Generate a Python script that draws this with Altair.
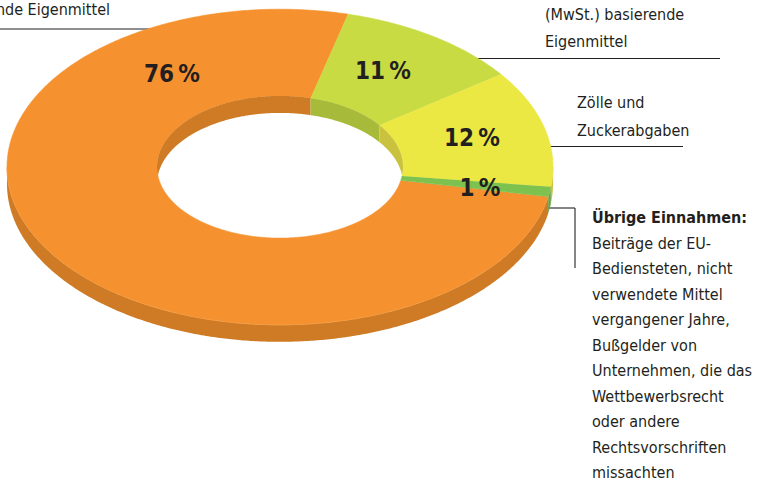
import altair as alt
import numpy as np
import pandas as pd

# ---------------- data ----------------
categories = [
    "Auf dem Bruttonationaleinkommen (BNE) basierende Eigenmittel",
    "Auf der Mehrwertsteuer (MwSt.) basierende Eigenmittel",
    "Zölle und Zuckerabgaben",
    "Übrige Einnahmen",
]
shares = [76, 11, 12, 1]
pct_labels = ["76\u202f%", "11\u202f%", "12\u202f%", "1\u202f%"]

# ---------------- styles / layout ----------------
top_colors = ["#F5922F", "#C9DB42", "#ECE843", "#7DC24F"]
side_colors = ["#CF7B25", "#A8BA3A", "#C8C23F", "#6AA343"]
TEXT = "#231F20"
FONT = "DejaVu Sans Condensed, Roboto, sans-serif"
W, H = 763, 479
CX, CY = 280, 167
RX_OUT, RX_IN = 273, 123
K = 0.578          # vertical squash of the tilted ring
DEPTH = 17         # thickness of the ring
START = -10.8      # start angle (deg, math orientation), slices run clockwise

pct_pos = [(172, 82), (383, 79), (472, 146), (480, 196)]

label_blocks = [
    # (lines, x, first baseline, line height, align, bold-first)
    (["basierende Eigenmittel"], 110, 15, 27, "right", False),
    (["(MwSt.) basierende", "Eigenmittel"], 545, 20, 27, "left", False),
    (["Zölle und", "Zuckerabgaben"], 577, 108, 28, "left", False),
    (["Übrige Einnahmen:", "Beiträge der EU-", "Bediensteten, nicht", "verwendete Mittel",
      "vergangener Jahre,", "Bußgelder von", "Unternehmen, die das", "Wettbewerbsrecht",
      "oder andere", "Rechtsvorschriften", "missachten"], 592, 223, 25.5, "left", True),
]

leader_lines = [
    (0, 150, 29, 29),
    (477, 720, 58.5, 58.5),
    (550, 683, 146.5, 146.5),
    (548, 575, 208, 208),
    (575, 575, 208, 268),
]

# ---------------- geometry from the data ----------------
cum = np.concatenate([[0], np.cumsum(shares)])
edges = START - 360.0 * cum / cum[-1]


def pt(t_deg, rx):
    t = np.radians(t_deg)
    return CX + rx * np.cos(t), CY - rx * K * np.sin(t)


def intersect(a, b, lo, hi):
    segs = []
    for k in range(-3, 3):
        l, h = max(a, lo + 360 * k), min(b, hi + 360 * k)
        if h - l > 1e-6:
            segs.append((l, h))
    return segs


top_rows, side_rows, wall_rows = [], [], []
for i, cat in enumerate(categories):
    ta, tb = edges[i], edges[i + 1]  # ta > tb
    n = max(6, int(abs(ta - tb) * 2))
    ts = np.linspace(ta, tb, n)
    xo, yo = pt(ts, RX_OUT)
    xi, yi = pt(ts[::-1], RX_IN)
    X = np.concatenate([xo, xi])
    Y = np.concatenate([yo, yi])
    for j, (x, y) in enumerate(zip(X, Y)):
        top_rows.append(dict(cat=cat, x=x, y=y, o=j, col=top_colors[i]))
    # outer front wall
    for s, (l, h) in enumerate(intersect(tb, ta, -180, 0)):
        tt = np.linspace(l, h, max(4, int((h - l) * 2)))
        x, y = pt(tt, RX_OUT)
        for xx, yy in zip(x, y):
            side_rows.append(dict(seg=f"{i}-{s}", x=xx, y=yy, y2=yy + DEPTH, col=side_colors[i]))
    # inner back wall
    for s, (l, h) in enumerate(intersect(tb, ta, 0, 180)):
        tt = np.linspace(l, h, max(4, int((h - l) * 2)))
        x, y = pt(tt, RX_IN)
        ybottom = 2 * CY - y
        for xx, yy, yb in zip(x, y, ybottom):
            wall_rows.append(dict(seg=f"{i}-{s}", x=xx, y=yy, y2=min(yy + DEPTH, yb), col=side_colors[i]))

top_df = pd.DataFrame(top_rows)
side_df = pd.DataFrame(side_rows)
wall_df = pd.DataFrame(wall_rows)

xs = alt.Scale(domain=[0, W], nice=False, zero=False)
ys = alt.Scale(domain=[0, H], nice=False, zero=False, reverse=True)

side = alt.Chart(side_df).mark_area(orient="vertical").encode(
    x=alt.X("x:Q", scale=xs, axis=None),
    y=alt.Y("y:Q", scale=ys, axis=None),
    y2="y2:Q",
    detail="seg:N",
    fill=alt.Fill("col:N", scale=None),
)

edge = alt.Chart(side_df).mark_line(color="#F6B876", strokeWidth=0.8, opacity=0.9).encode(
    x=alt.X("x:Q", scale=xs, axis=None),
    y=alt.Y("y:Q", scale=ys, axis=None),
    detail="seg:N",
)

top = alt.Chart(top_df).mark_line(strokeWidth=0.6).encode(
    x=alt.X("x:Q", scale=xs, axis=None),
    y=alt.Y("y:Q", scale=ys, axis=None),
    order="o:Q",
    detail="cat:N",
    fill=alt.Fill("col:N", scale=None),
    stroke=alt.Stroke("col:N", scale=None),
)

wall = alt.Chart(wall_df).mark_area(orient="vertical").encode(
    x=alt.X("x:Q", scale=xs, axis=None),
    y=alt.Y("y:Q", scale=ys, axis=None),
    y2="y2:Q",
    detail="seg:N",
    fill=alt.Fill("col:N", scale=None),
)

rules_df = pd.DataFrame(leader_lines, columns=["x", "x2", "y", "y2"])
rules = alt.Chart(rules_df).mark_rule(color=TEXT, strokeWidth=1.1).encode(
    x=alt.X("x:Q", scale=xs, axis=None),
    x2="x2:Q",
    y=alt.Y("y:Q", scale=ys, axis=None),
    y2="y2:Q",
)

pct_df = pd.DataFrame({
    "label": pct_labels,
    "x": [p[0] for p in pct_pos],
    "y": [p[1] for p in pct_pos],
})
pct = alt.Chart(pct_df).mark_text(
    font=FONT, fontSize=24, fontWeight="bold", color=TEXT, align="center", baseline="alphabetic"
).encode(
    x=alt.X("x:Q", scale=xs, axis=None),
    y=alt.Y("y:Q", scale=ys, axis=None),
    text="label:N",
)

text_layers = []
for lines, x0, y0, lh, align, bold_first in label_blocks:
    rows = [dict(t=ln, x=x0, y=y0 + k * lh, bold=(bold_first and k == 0)) for k, ln in enumerate(lines)]
    df = pd.DataFrame(rows)
    for b in [False, True]:
        sub = df[df["bold"] == b]
        if len(sub) == 0:
            continue
        text_layers.append(
            alt.Chart(sub).mark_text(
                font=FONT, fontSize=16, fontWeight="bold" if b else "normal",
                color=TEXT, align=align, baseline="alphabetic"
            ).encode(
                x=alt.X("x:Q", scale=xs, axis=None),
                y=alt.Y("y:Q", scale=ys, axis=None),
                text="t:N",
            )
        )

chart = alt.layer(rules, side, edge, top, wall, pct, *text_layers).properties(
    width=W, height=H, autosize="none", padding=0
).configure_view(stroke=None)

chart.save("out.html", embed_options={"renderer": "svg", "actions": False})
